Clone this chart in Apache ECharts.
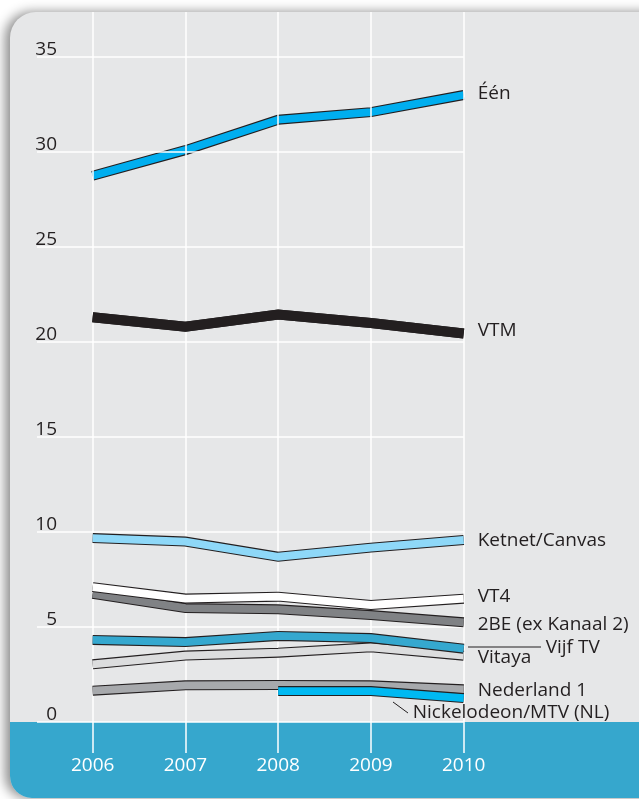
<!DOCTYPE html>
<html>
<head>
<meta charset="utf-8">
<script src="https://cdn.jsdelivr.net/npm/echarts@6/dist/echarts.min.js"></script>
<style>
  html, body { margin: 0; padding: 0; background: #fff; }
  #chart { width: 639px; height: 799px; }
</style>
</head>
<body>
<div id="chart"></div>
<script>
// kijkcijfers per zender, 2006-2010
const years = [2006, 2007, 2008, 2009, 2010];
const yTicks = [0, 5, 10, 15, 20, 25, 30, 35];
const channels = ['Één', 'VTM', 'Ketnet/Canvas', '2BE (ex Kanaal 2)', 'VT4', 'Vitaya', 'Vijf TV', 'Nederland 1', 'Nickelodeon/MTV (NL)'];

const een = [28.75, 30.1, 31.7, 32.1, 33.0];
const vtm = [21.3, 20.8, 21.45, 21.0, 20.45];
const ketnet = [9.68, 9.5, 8.7, 9.18, 9.58];
const tweeBE = [6.75, 6.0, 5.93, 5.63, 5.25];
const vt4 = [7.1, 6.5, 6.6, 6.16, 6.49];
const vitaya = [3.04, 3.5, 3.65, 3.93, 3.49];
const vijfTV = [4.32, 4.21, 4.53, 4.42, 3.86];
const nederland1 = [1.65, 1.93, 1.95, 1.93, 1.72];
const nickelodeon = [null, null, 1.63, 1.63, 1.26];

const values = [een, vtm, ketnet, tweeBE, vt4, vitaya, vijfTV, nederland1, nickelodeon];

// stijl per lijn
const colors = ['#00aeef', '#231f20', '#8ed8f8', '#808285', '#ffffff', '#dcddde', '#35a8cf', '#a7a9ac', '#00b9f2'];
const labelOffsets = [[0, -1], [0, -3], [0, 1], [0, 2], [0, -2], [0, 2], [68, -1], [0, 1], [-65, 15]];

const ink = '#231f20';
const font = '"Open Sans", "Noto Sans", sans-serif';

const chart = echarts.init(document.getElementById('chart'), null, { renderer: 'canvas' });

const series = [];

// rasterlijnen
series.push({
  type: 'line',
  data: [],
  z: 1,
  silent: true,
  markLine: {
    silent: true,
    symbol: 'none',
    label: { show: false },
    lineStyle: { color: '#ffffff', width: 1.5, type: 'solid' },
    data: [
      ...yTicks.map(v => ({ yAxis: v })),
      ...years.map(y => ({ xAxis: y }))
    ]
  }
});

values.forEach((vals, i) => {
  const pts = years.map((y, j) => [y, vals[j]]).filter(p => p[1] != null);
  // donkere rand
  series.push({
    type: 'line',
    name: channels[i] + '_rand',
    data: pts,
    z: 3 + i * 2,
    showSymbol: false,
    silent: true,
    lineStyle: { color: ink, width: i === 1 ? 10 : 10, join: 'miter', cap: 'butt' }
  });
  series.push({
    type: 'line',
    name: channels[i],
    data: pts,
    z: 4 + i * 2,
    showSymbol: false,
    silent: true,
    lineStyle: { color: colors[i], width: i === 1 ? 10 : 7.8, join: 'miter', cap: 'butt' },
    endLabel: {
      show: true,
      formatter: channels[i],
      distance: 14,
      offset: labelOffsets[i],
      color: ink,
      fontSize: 19,
      fontFamily: font
    }
  });
});

const options = {
  animation: false,
  grid: { left: 37, right: 175.3, top: 12, bottom: 46 },
  xAxis: {
    type: 'value',
    min: 2005.4,
    max: 2010,
    axisLine: { show: false },
    axisTick: { show: false },
    splitLine: { show: false },
    axisLabel: {
      customValues: years,
      color: '#ffffff',
      fontSize: 19,
      fontFamily: font,
      margin: 3,
      formatter: v => String(v)
    }
  },
  yAxis: {
    type: 'value',
    min: -1.63,
    max: 37.37,
    axisLine: { show: false },
    axisTick: { show: false },
    splitLine: { show: false },
    axisLabel: {
      customValues: yTicks,
      inside: true,
      margin: 20,
      align: 'right',
      verticalAlign: 'bottom',
      lineHeight: 15,
      color: ink,
      fontSize: 19,
      fontFamily: font
    }
  },
  graphic: {
    elements: [
      {
        type: 'rect', z: -10, silent: true,
        shape: { x: 10, y: 12, width: 700, height: 786, r: [26, 0, 0, 22] },
        style: { fill: '#e6e7e8', shadowBlur: 12, shadowOffsetX: -5, shadowColor: 'rgba(0,0,0,0.45)' }
      },
      {
        type: 'rect', z: -9, silent: true,
        shape: { x: 10, y: 722, width: 700, height: 76, r: [0, 0, 0, 22] },
        style: { fill: '#36a7cd' }
      },
      {
        type: 'line', z: 50, silent: true,
        shape: { x1: 468, y1: 647, x2: 541, y2: 647 },
        style: { stroke: ink, lineWidth: 1 }
      },
      {
        type: 'line', z: 50, silent: true,
        shape: { x1: 393, y1: 702, x2: 408, y2: 713 },
        style: { stroke: ink, lineWidth: 1 }
      }
    ]
  },
  series: series
};

chart.setOption(options);
</script>
</body>
</html>
